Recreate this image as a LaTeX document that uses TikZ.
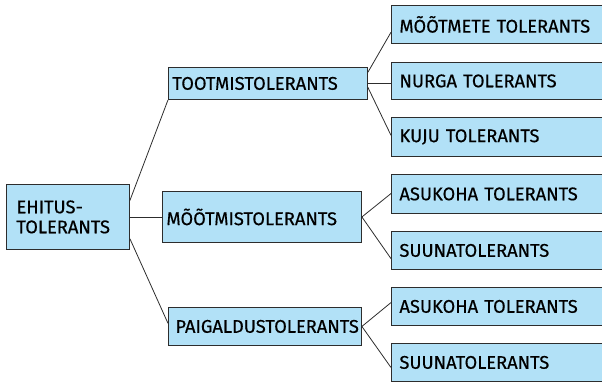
\documentclass[tikz,border=0pt]{standalone}
\usepackage{fontspec}
\setmainfont{Fira Sans}
\newfontfamily\lab{Fira Sans}[FakeBold=0.45]
\usetikzlibrary{calc}
\definecolor{boxblue}{RGB}{178,225,247}
\definecolor{edge}{RGB}{45,45,45}
\tikzset{
  x=1pt, y=-1pt,
  box/.style={draw=edge, fill=boxblue, line width=0.9pt, anchor=north west,
    inner ysep=0pt, align=left, font=\lab\fontsize{18.3}{20}\selectfont},
  link/.style={draw=edge, line width=0.8pt}
}
\begin{document}
\begin{tikzpicture}
\useasboundingbox (0,0) rectangle (602,382);
\begin{scope}
\clip (0,0) rectangle (602,382);
% left and middle boxes
\node[box, inner xsep=10pt, text width=103pt, minimum height=65pt] (E) at (6,184) {EHITUS-\\TOLERANTS};
\node[box, inner xsep=4pt, text width=191pt, minimum height=32pt] (T) at (168,67) {TOOTMISTOLERANTS};
\node[box, inner xsep=4pt, text width=191pt, minimum height=51pt] (M) at (162,191) {MÕÕTMISTOLERANTS};
\node[box, inner xsep=7pt, text width=179pt, minimum height=38pt] (P) at (168,307) {PAIGALDUSTOLERANTS};
% right boxes
\node[box, inner xsep=8pt, text width=199pt, minimum height=38pt] (R1) at (391,5) {MÕÕTMETE TOLERANTS};
\node[box, inner xsep=8pt, text width=199pt, minimum height=37pt] (R2) at (391,62) {NURGA TOLERANTS};
\node[box, inner xsep=8pt, text width=199pt, minimum height=39pt] (R3) at (391,117) {KUJU TOLERANTS};
\node[box, inner xsep=8pt, text width=199pt, minimum height=39pt] (R4) at (391,174) {ASUKOHA TOLERANTS};
\node[box, inner xsep=8pt, text width=199pt, minimum height=38pt] (R5) at (391,231) {SUUNATOLERANTS};
\node[box, inner xsep=8pt, text width=199pt, minimum height=38pt] (R6) at (391,287) {ASUKOHA TOLERANTS};
\node[box, inner xsep=8pt, text width=199pt, minimum height=38pt] (R7) at (391,343) {SUUNATOLERANTS};
\end{scope}
% connectors
\draw[link] ($(E.north east)!0.25!(E.south east)$) -- (T.south west);
\draw[link] (E.east) -- (M.west);
\draw[link] ($(E.north east)!0.83!(E.south east)$) -- ($(P.north west)!0.42!(P.south west)$);
\draw[link] ($(T.north east)!0.16!(T.south east)$) -- ($(R1.north west)!0.7!(R1.south west)$);
\draw[link] (T.east) -- (T.east -| R2.west);
\draw[link] ($(T.north east)!0.62!(T.south east)$) -- ($(R3.north west)!0.46!(R3.south west)$);
\draw[link] (M.east) -- ($(R4.north west)!0.49!(R4.south west)$);
\draw[link] (M.east) -- ($(R5.north west)!0.71!(R5.south west)$);
\draw[link] (P.east) -- ($(R6.north west)!0.4!(R6.south west)$);
\draw[link] (P.east) -- ($(R7.north west)!0.63!(R7.south west)$);
\end{tikzpicture}
\end{document}
